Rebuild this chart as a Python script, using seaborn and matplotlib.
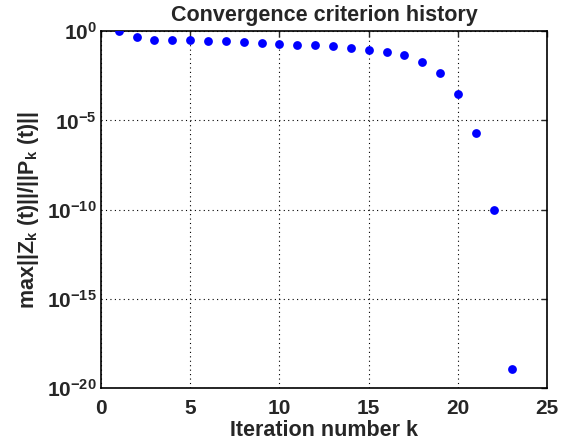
import matplotlib
matplotlib.use("Agg")
import matplotlib.pyplot as plt
import matplotlib.ticker as mticker
import seaborn as sns
import numpy as np
import pandas as pd

iterations = [1, 2, 3, 4, 5, 6, 7, 8, 9, 10, 11, 12, 13, 14, 15, 16, 17, 18, 19, 20, 21, 22, 23]
criterion = [1.0, 0.48, 0.31, 0.32, 0.32, 0.30, 0.27, 0.24, 0.22, 0.19, 0.17, 0.16, 0.14,
             0.117, 0.09, 0.07, 0.045, 0.02, 0.0047, 3e-4, 2.1e-6, 9e-11, 1.15e-19]
xticks = [0, 5, 10, 15, 20, 25]
yticks = [1e-20, 1e-15, 1e-10, 1e-5, 1e0]

sns.set_style("white")
plt.rcParams['font.family'] = ['Liberation Sans', 'DejaVu Sans']
plt.rcParams['font.weight'] = 'bold'
plt.rcParams['mathtext.fontset'] = 'custom'
plt.rcParams['mathtext.rm'] = 'Liberation Sans:bold'
plt.rcParams['mathtext.it'] = 'Liberation Sans:bold'
plt.rcParams['mathtext.bf'] = 'Liberation Sans:bold'
plt.rcParams['mathtext.default'] = 'rm'

df = pd.DataFrame({"k": iterations, "crit": criterion})

fig = plt.figure(figsize=(5.73, 4.46), dpi=100)
ax = fig.add_axes([0.176, 0.130, 0.779, 0.800])
sns.scatterplot(data=df, x="k", y="crit", ax=ax, color="#0000ff", s=40, linewidth=0, zorder=3)
ax.set_yscale("log")
ax.set_xlim(0, 25)
ax.set_ylim(1e-20, 1)
ax.set_xticks(xticks)
ax.set_yticks(yticks)
ax.yaxis.set_minor_locator(mticker.NullLocator())
ax.yaxis.set_major_formatter(mticker.FuncFormatter(lambda v, p: r'$10^{%d}$' % int(round(np.log10(v)))))
ax.tick_params(axis='both', direction='in', length=4, width=1, labelsize=15, top=True, right=True)
ax.tick_params(axis='x', pad=8)
ax.tick_params(axis='y', pad=3)
for lab in ax.get_xticklabels():
    lab.set_fontweight('bold')
ax.grid(True, which='major', linestyle=(0, (1, 3)), color='black', linewidth=0.8)
for s in ax.spines.values():
    s.set_linewidth(1.2)
    s.set_color('black')
    s.set_visible(True)
ax.set_xlabel("Iteration number k", fontsize=15.5, fontweight='bold', labelpad=1)
ax.set_ylabel(r'max||Z$_{\rm k}$ (t)||/||P$_{\rm k}$ (t)||', fontsize=15.5, fontweight='bold', labelpad=4)
ax.set_title("Convergence criterion history", fontsize=15.5, fontweight='bold', pad=7)
fig.savefig("out.png", dpi=100)
